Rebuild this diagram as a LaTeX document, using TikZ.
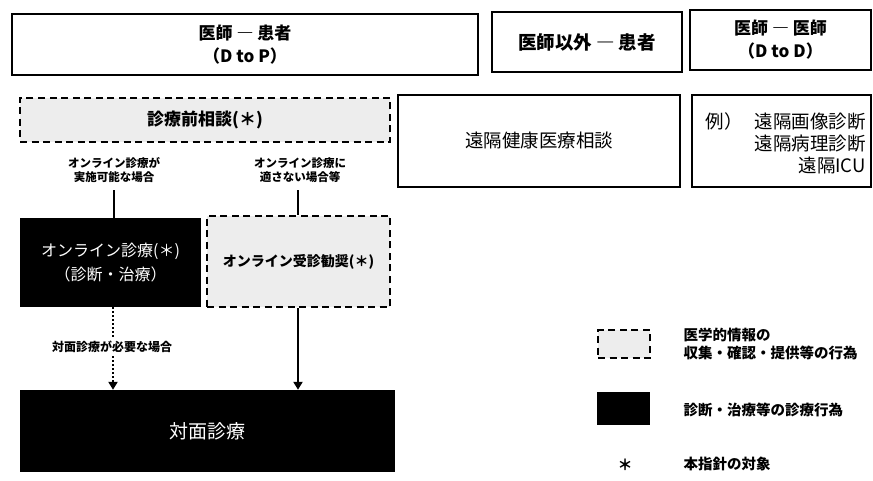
\documentclass[tikz,border=0pt]{standalone}
\usepackage{fontspec}
\setmainfont{Noto Sans CJK JP}
\usetikzlibrary{arrows.meta, positioning}
\definecolor{infogray}{HTML}{EDEDED}

\begin{document}
\begin{tikzpicture}[x=1pt, y=-1pt,
  header/.style={rectangle, draw, line width=2.8pt, align=center, font=\fontsize{17}{23}\selectfont\bfseries},
  plainbox/.style={rectangle, draw, line width=1.1pt, align=center, font=\fontsize{18.5}{22}\selectfont},
  infobox/.style={rectangle, draw, line width=2pt, dash pattern=on 7pt off 4.5pt, fill=infogray, align=center},
  carebox/.style={rectangle, fill=black, text=white, align=center},
  caselabel/.style={align=center, font=\fontsize{11.5}{14}\selectfont\bfseries},
  legtext/.style={anchor=west, align=left, font=\fontsize{14.5}{17.5}\selectfont\bfseries},
  arrow/.style={-{Triangle[length=8pt, width=9pt]}, line width=2pt}
]
  \useasboundingbox (0,0) rectangle (873,481);

  % column headers
  \node[header, minimum width=466pt, minimum height=61pt] (dtop) at (245,44.5) {医師 ― 患者\\（D to P）};
  \node[header, minimum width=190pt, minimum height=60pt, font=\fontsize{18.5}{22}\selectfont\bfseries] (otherp) at (587,42) {医師以外 ― 患者};
  \node[header, minimum width=181pt, minimum height=60pt] (dtod) at (780.5,40) {医師 ― 医師\\（D to D）};

  % first row
  \node[infobox, minimum width=370pt, minimum height=44pt, font=\fontsize{17}{20}\selectfont\bfseries] (precon) at (205,120) {診療前相談(＊)};
  \node[plainbox, minimum width=282pt, minimum height=92pt] (health) at (539,141) {遠隔健康医療相談};
  \node[plainbox, minimum width=179pt, minimum height=92pt] (remote) at (781.5,141) {};
  \node[anchor=north east, align=right, inner sep=0pt, font=\fontsize{18.5}{22}\selectfont] (examples) at (866,112) {例）\hspace{12pt}遠隔画像診断\\遠隔病理診断\\遠隔ICU};

  % branch labels
  \node[caselabel] (okcase) at (114,170) {オンライン診療が\\実施可能な場合};
  \node[caselabel] (ngcase) at (300,170) {オンライン診療に\\適さない場合等};

  % second row
  \node[carebox, minimum width=181pt, minimum height=89pt, font=\fontsize{16}{24}\selectfont] (online) at (110.5,262.5) {オンライン診療(＊)\\（診断・治療）};
  \node[infobox, minimum width=183pt, minimum height=91pt, font=\fontsize{14}{17}\selectfont\bfseries] (advice) at (298.5,261.5) {オンライン受診勧奨(＊)};

  \node[caselabel, font=\fontsize{12}{14}\selectfont\bfseries] (needface) at (112,347) {対面診療が必要な場合};

  % bottom
  \node[carebox, minimum width=375pt, minimum height=82pt, font=\fontsize{19}{22}\selectfont] (face) at (207.5,431) {対面診療};

  % connectors
  \draw[line width=2pt] (okcase.south) ++(0,4) -- (okcase.south |- online.north);
  \draw[line width=2pt] (ngcase.south) ++(-2,4) coordinate (ngtop) -- (ngtop |- advice.north);
  \draw[line width=2.5pt, dash pattern=on 2pt off 2pt] (online.south -| needface.south) ++(1,0) coordinate (dottop) -- (dottop |- needface.north);
  \draw[arrow, dash pattern=on 2pt off 2pt, line width=2.5pt] (dottop |- needface.south) -- (dottop |- face.north);
  \draw[arrow] (ngtop |- advice.south) -- (ngtop |- face.north);

  % legend
  \node[infobox, minimum width=52pt, minimum height=28pt] (leginfo) at (624,344) {};
  \node[legtext] (leginfotext) at (680,344) {医学的情報の\\収集・確認・提供等の行為};
  \node[carebox, minimum width=53pt, minimum height=33pt] (legcare) at (623.5,408.5) {};
  \node[legtext] (legcaretext) at (680,410) {診断・治療等の診療行為};
  \node[font=\fontsize{15}{18}\selectfont\bfseries] (legstar) at (625,465) {＊};
  \node[legtext] (legstartext) at (680,464) {本指針の対象};
\end{tikzpicture}
\end{document}
